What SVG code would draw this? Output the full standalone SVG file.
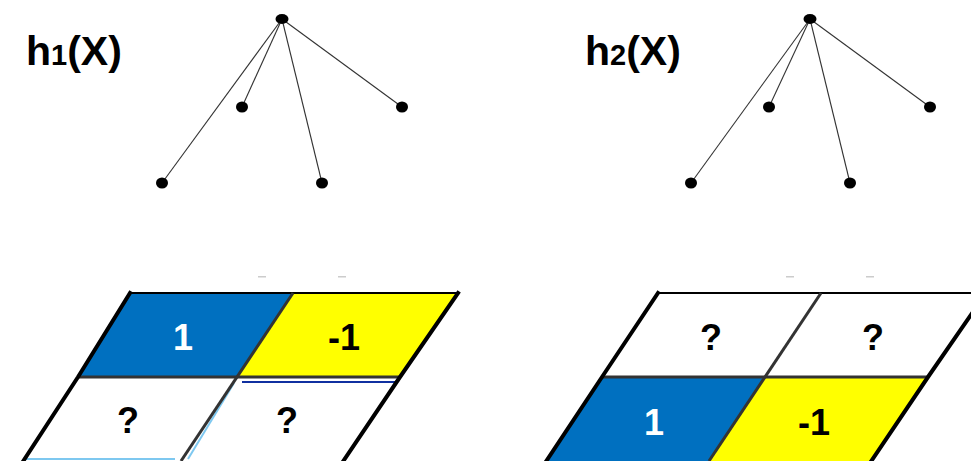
<svg xmlns="http://www.w3.org/2000/svg" width="971" height="461" viewBox="0 0 971 461">
<style>
.t{font-family:"Liberation Sans",Arial,sans-serif;font-weight:bold;fill:#000}
.lbl{font-family:"Liberation Sans",Arial,sans-serif;font-weight:bold;font-size:36px;text-anchor:middle}
.dot{fill:#000}
.edge{stroke:#333;stroke-width:1.1;fill:none}
.blue{fill:#0070C0}
.yel{fill:#FFFF00}
.wht{fill:#FFFFFF}
.outer{stroke:#000;stroke-width:4;fill:none;stroke-linecap:square}
.top{stroke:#000;stroke-width:2;fill:none}
.inner{stroke:#333;stroke-width:3;fill:none}
</style>
<rect width="971" height="461" fill="#fff"/>
<text class="t" x="26" y="65" font-size="41">h<tspan font-size="29">1</tspan>(X)</text>
<text class="t" x="585" y="65" font-size="41">h<tspan font-size="29">2</tspan>(X)</text>
<g id="connectors">
<line class="edge" x1="282" y1="19" x2="162" y2="183"/>
<line class="edge" x1="282" y1="19" x2="242" y2="107"/>
<line class="edge" x1="282" y1="19" x2="322" y2="183"/>
<line class="edge" x1="282" y1="19" x2="402" y2="107"/>
<line class="edge" x1="810" y1="19" x2="691" y2="183"/>
<line class="edge" x1="810" y1="19" x2="769" y2="107"/>
<line class="edge" x1="810" y1="19" x2="850" y2="183"/>
<line class="edge" x1="810" y1="19" x2="930" y2="107"/>
</g>
<g id="t1-root"><ellipse class="dot" cx="282" cy="19" rx="6.5" ry="5"/></g>
<g id="t1-a"><ellipse class="dot" cx="242" cy="107" rx="6" ry="5.5"/></g>
<g id="t1-b"><ellipse class="dot" cx="402" cy="107" rx="6" ry="5.5"/></g>
<g id="t1-c"><ellipse class="dot" cx="162" cy="183" rx="6" ry="5.5"/></g>
<g id="t1-d"><ellipse class="dot" cx="322" cy="183" rx="6" ry="5.5"/></g>
<g id="t2-root"><ellipse class="dot" cx="810" cy="19" rx="6.5" ry="5"/></g>
<g id="t2-a"><ellipse class="dot" cx="769" cy="107" rx="6" ry="5.5"/></g>
<g id="t2-b"><ellipse class="dot" cx="930" cy="107" rx="6" ry="5.5"/></g>
<g id="t2-c"><ellipse class="dot" cx="691" cy="183" rx="6" ry="5.5"/></g>
<g id="t2-d"><ellipse class="dot" cx="850" cy="183" rx="6" ry="5.5"/></g>
<g fill="#ccc">
<rect x="258" y="276" width="8" height="1.5"/>
<rect x="338" y="276" width="8" height="1.5"/>
<rect x="786" y="276" width="8" height="1.5"/>
<rect x="866" y="276" width="8" height="1.5"/>
</g>
<g id="grid1">
<g id="g1-a"><polygon class="blue" points="130,293 293,293 237,377 78,377"/><text class="lbl" x="183" y="350" fill="#fff">1</text></g>
<g id="g1-b"><polygon class="yel" points="293,293 458,293 400,377 237,377"/><text class="lbl" x="344" y="350" fill="#000">-1</text></g>
<g id="g1-c"><polygon class="wht" points="78,377 237,377 181,463 22,463"/><text class="lbl" x="128" y="433" fill="#000">?</text></g>
<g id="g1-d"><polygon class="wht" points="237,377 400,377 342,463 181,463"/><text class="lbl" x="287" y="433" fill="#000">?</text></g>
<line x1="24" y1="459" x2="175" y2="459" stroke="#7ec8f0" stroke-width="2"/>
<line x1="188" y1="459" x2="234" y2="383" stroke="#7ec8f0" stroke-width="2"/>
<line x1="242" y1="382" x2="396" y2="382" stroke="#1030a0" stroke-width="2"/>
<line class="top" x1="130" y1="293" x2="458" y2="293"/>
<line class="inner" x1="78" y1="377" x2="400" y2="377"/>
<line class="inner" x1="293" y1="293" x2="181" y2="461"/>
<polyline class="outer" points="130,293 78,377 22,463"/>
<polyline class="outer" points="458,293 400,377 342,463"/>
</g>
<g id="grid2">
<g id="g2-a"><polygon class="wht" points="658,293 821,293 765,377 602,377"/><text class="lbl" x="711" y="350" fill="#000">?</text></g>
<g id="g2-b"><polygon class="wht" points="821,293 986,293 928,377 765,377"/><text class="lbl" x="873" y="350" fill="#000">?</text></g>
<g id="g2-c"><polygon class="blue" points="602,377 765,377 709,463 545,463"/><text class="lbl" x="654" y="435" fill="#fff">1</text></g>
<g id="g2-d"><polygon class="yel" points="765,377 928,377 870,463 709,463"/><text class="lbl" x="814" y="435" fill="#000">-1</text></g>
<line class="top" x1="658" y1="293" x2="971" y2="293"/>
<line class="inner" x1="602" y1="377" x2="928" y2="377"/>
<line class="inner" x1="821" y1="293" x2="709" y2="461"/>
<polyline class="outer" points="658,293 602,377 545,463"/>
<polyline class="outer" points="986,293 928,377 870,463"/>
</g>
</svg>
